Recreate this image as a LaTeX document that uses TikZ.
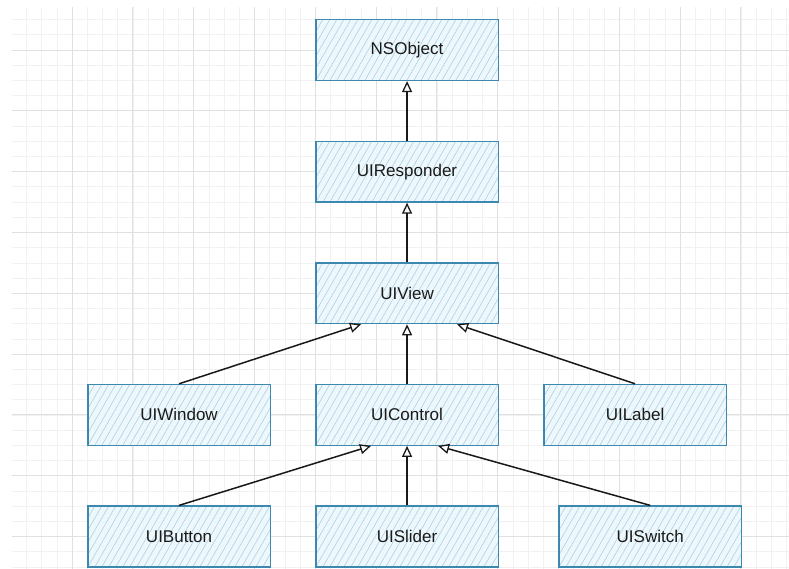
\documentclass[tikz,border=0pt]{standalone}
\usepackage{fontspec}
\setmainfont{Liberation Sans}
\usetikzlibrary{arrows.meta,calc}
\definecolor{boxblue}{HTML}{3C88AE}
\definecolor{boxfill}{HTML}{EEF7FB}
\definecolor{hatchc}{HTML}{A9D3E6}
\definecolor{gridmaj}{HTML}{E0E0E0}
\definecolor{gridmin}{HTML}{F1F1F1}
\definecolor{txt}{HTML}{1A1A1A}
\tikzset{
  cls/.style={draw=boxblue, line width=1.3pt, fill=boxfill,
    minimum width=182.4pt, minimum height=60.8pt, anchor=north west,
    inner sep=0pt, text=txt, font=\fontsize{17}{20}\selectfont,
    path picture={
      \foreach \k in {-6,...,27}
        \draw[hatchc, line width=0.6pt]
          ([xshift=\k*7pt]path picture bounding box.south west) -- ++(35pt,61pt);
    }},
  inh/.style={draw=black!90, line width=1.5pt,
    -{Triangle[open, length=11pt, width=10pt, line width=1.3pt]}},
}
\begin{document}
\begin{tikzpicture}[x=1pt,y=-1pt]
\useasboundingbox (0,0) rectangle (789,569);
\fill[white] (0,0) rectangle (789,569);
% grid
\begin{scope}
\clip (12,8) rectangle (789,569);
\foreach \i in {-4,...,52} {
  \draw[gridmin, line width=0.6pt] ({72+15.2*\i},0) -- ({72+15.2*\i},569);
}
\foreach \j in {-3,...,38} {
  \draw[gridmin, line width=0.6pt] (0,{50+15.2*\j}) -- (789,{50+15.2*\j});
}
\foreach \i in {-1,...,12} {
  \draw[gridmaj, line width=0.8pt] ({72+60.8*\i},0) -- ({72+60.8*\i},569);
}
\foreach \j in {-1,...,9} {
  \draw[gridmaj, line width=0.8pt] (0,{50+60.8*\j}) -- (789,{50+60.8*\j});
}
\end{scope}
% nodes
\node[cls] (NSObject)    at (315.2,19)    {NSObject};
\node[cls] (UIResponder) at (315.2,140.6) {UIResponder};
\node[cls] (UIView)      at (315.2,262.2) {UIView};
\node[cls] (UIWindow)    at (87.2,383.8)  {UIWindow};
\node[cls] (UIControl)   at (315.2,383.8) {UIControl};
\node[cls] (UILabel)     at (543.2,383.8) {UILabel};
\node[cls] (UIButton)    at (87.2,505.4)  {UIButton};
\node[cls] (UISlider)    at (315.2,505.4) {UISlider};
\node[cls] (UISwitch)    at (558.4,505.4) {UISwitch};
% connectors
\draw[inh] (UIResponder.north) -- (NSObject.south);
\draw[inh] (UIView.north) -- (UIResponder.south);
\draw[inh] (UIWindow.north) -- ($(UIView.south)+(-46,0)$);
\draw[inh] (UIControl.north) -- (UIView.south);
\draw[inh] (UILabel.north) -- ($(UIView.south)+(50,0)$);
\draw[inh] (UIButton.north) -- ($(UIControl.south)+(-36,0)$);
\draw[inh] (UISlider.north) -- (UIControl.south);
\draw[inh] (UISwitch.north) -- ($(UIControl.south)+(31,0)$);
\end{tikzpicture}
\end{document}
